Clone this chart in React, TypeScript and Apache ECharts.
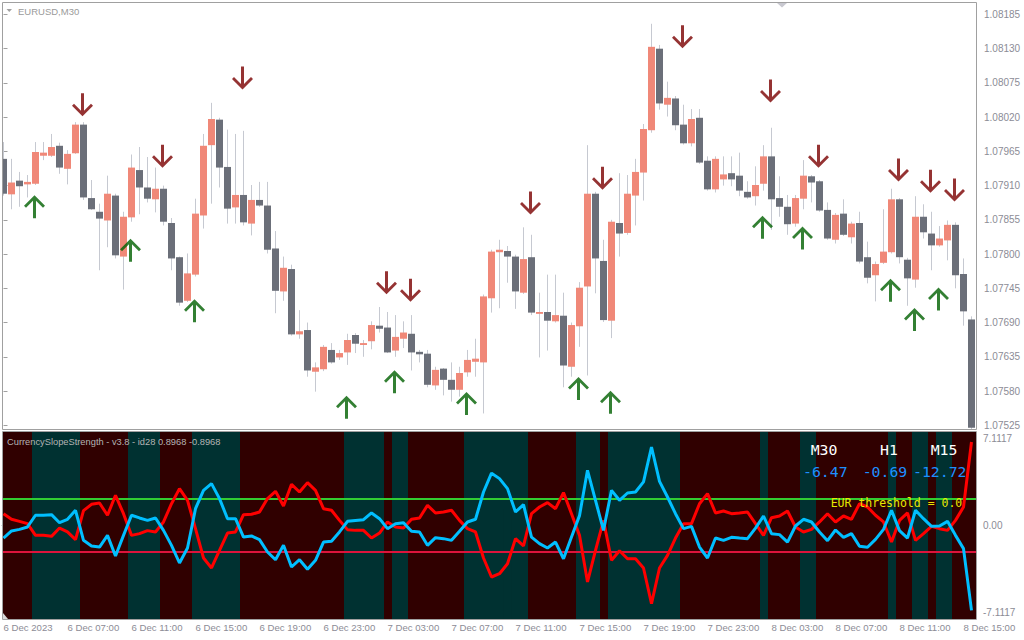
import React, { useEffect, useRef } from 'react';
import * as echarts from 'echarts';

// ---------- data ----------
const timeLabels = ['6 Dec 2023', '6 Dec 07:00', '6 Dec 11:00', '6 Dec 15:00', '6 Dec 19:00', '6 Dec 23:00', '7 Dec 03:00', '7 Dec 07:00', '7 Dec 11:00', '7 Dec 15:00', '7 Dec 19:00', '7 Dec 23:00', '8 Dec 03:00', '8 Dec 07:00', '8 Dec 11:00', '8 Dec 15:00'];
const labelBars = [0, 8, 16, 24, 32, 40, 48, 56, 64, 72, 80, 88, 96, 104, 112, 120];
const priceTicks = [1.07525, 1.0758, 1.07635, 1.0769, 1.07745, 1.078, 1.07855, 1.0791, 1.07965, 1.0802, 1.08075, 1.0813, 1.08185];
const strengthTicks = [-7.1117, 0, 7.1117];

const opens = [1.07953, 1.07896, 1.07918, 1.07912, 1.07913, 1.07958, 1.07958, 1.07974, 1.07937, 1.07962,
  1.08008, 1.0789, 1.07868, 1.07854, 1.07894, 1.07796, 1.07859, 1.07935, 1.07907, 1.07888,
  1.07905, 1.0785, 1.07795, 1.07725, 1.07767, 1.07862, 1.07975, 1.08016, 1.0794, 1.07875,
  1.07895, 1.07849, 1.07887, 1.07878, 1.07809, 1.0774, 1.07776, 1.07671, 1.07678, 1.07611,
  1.07615, 1.07646, 1.07634, 1.07642, 1.0767, 1.07654, 1.0766, 1.07685, 1.07682, 1.07645,
  1.07664, 1.07672, 1.07643, 1.0764, 1.07589, 1.07616, 1.07598, 1.07582, 1.0761, 1.07627,
  1.07626, 1.07729, 1.07803, 1.07805, 1.07796, 1.07738, 1.07795, 1.07704, 1.07707, 1.07692,
  1.07701, 1.07619, 1.07684, 1.07748, 1.07897, 1.07789, 1.07693, 1.0785, 1.07834, 1.07894,
  1.07931, 1.07999, 1.0813, 1.0804, 1.0805, 1.08008, 1.07978, 1.08019, 1.0795, 1.07904,
  1.0792, 1.0793, 1.07926, 1.079, 1.07893, 1.07913, 1.07957, 1.0789, 1.07876, 1.07849,
  1.07889, 1.07925, 1.07917, 1.07871, 1.07823, 1.07865, 1.07827, 1.0785, 1.07795, 1.07766,
  1.07786, 1.07803, 1.07888, 1.07791, 1.07759, 1.0786, 1.07833, 1.07814, 1.07822, 1.07847,
  1.07768, 1.07695];
const closes = [1.07897, 1.07915, 1.07909, 1.07916, 1.07964, 1.07963, 1.07972, 1.07939, 1.07961, 1.08008,
  1.07891, 1.07872, 1.07857, 1.07897, 1.07798, 1.0786, 1.07939, 1.07907, 1.07889, 1.07905,
  1.07852, 1.07793, 1.07722, 1.07769, 1.07865, 1.07974, 1.08017, 1.07939, 1.07873, 1.07895,
  1.07851, 1.07887, 1.07878, 1.07807, 1.07741, 1.07778, 1.07671, 1.07676, 1.07613, 1.07618,
  1.07651, 1.07626, 1.07641, 1.07662, 1.07656, 1.07657, 1.07686, 1.0768, 1.07642, 1.07667,
  1.07674, 1.07642, 1.07639, 1.0759, 1.07614, 1.07598, 1.07582, 1.07609, 1.0763, 1.07632,
  1.07732, 1.07804, 1.07807, 1.07796, 1.0774, 1.07792, 1.07706, 1.07707, 1.07693, 1.07702,
  1.07621, 1.07686, 1.07746, 1.07897, 1.07793, 1.07694, 1.07852, 1.07833, 1.07897, 1.07932,
  1.08001, 1.08133, 1.08042, 1.08051, 1.08007, 1.07978, 1.08017, 1.07947, 1.07904, 1.07953,
  1.07928, 1.0792, 1.07902, 1.07891, 1.07911, 1.07957, 1.07888, 1.07876, 1.07848, 1.0789,
  1.07926, 1.07915, 1.0787, 1.07825, 1.07863, 1.07831, 1.07849, 1.07788, 1.07762, 1.07784,
  1.07804, 1.07888, 1.07795, 1.07761, 1.0786, 1.07835, 1.07814, 1.07825, 1.07847, 1.07766,
  1.07708, 1.07521];
const highs = [1.0798, 1.07953, 1.07932, 1.07927, 1.0798, 1.0798, 1.07993, 1.07979, 1.07967, 1.08012,
  1.08012, 1.07919, 1.07881, 1.07926, 1.07897, 1.07868, 1.0796, 1.07972, 1.07956, 1.07939,
  1.0791, 1.07858, 1.07796, 1.07801, 1.07889, 1.07993, 1.08043, 1.08019, 1.08, 1.07993,
  1.07998, 1.07911, 1.07916, 1.07916, 1.07837, 1.07796, 1.07783, 1.0771, 1.0769, 1.07626,
  1.07654, 1.07657, 1.07646, 1.07672, 1.07673, 1.07662, 1.07692, 1.07715, 1.07707, 1.07702,
  1.07692, 1.07702, 1.07646, 1.07646, 1.07619, 1.07617, 1.07626, 1.07619, 1.07646, 1.07664,
  1.07735, 1.07807, 1.07823, 1.07813, 1.07799, 1.07843, 1.07831, 1.07738, 1.07767, 1.07767,
  1.07738, 1.0769, 1.07755, 1.07975, 1.079, 1.07823, 1.07855, 1.0793, 1.07927, 1.07953,
  1.08009, 1.0817, 1.08136, 1.08077, 1.08054, 1.0804, 1.08033, 1.08033, 1.07957, 1.07957,
  1.07957, 1.07957, 1.07963, 1.07917, 1.07941, 1.07975, 1.08003, 1.07925, 1.07895, 1.07895,
  1.07951, 1.07927, 1.07919, 1.07883, 1.07866, 1.07888, 1.07852, 1.07868, 1.0782, 1.07788,
  1.07872, 1.07905, 1.0789, 1.07794, 1.07893, 1.0788, 1.07868, 1.07845, 1.07854, 1.07851,
  1.07793, 1.077];
const lows = [1.07894, 1.07872, 1.07876, 1.07891, 1.07911, 1.07951, 1.07956, 1.07929, 1.07912, 1.07961,
  1.07887, 1.07871, 1.07774, 1.07811, 1.07793, 1.07743, 1.07852, 1.07864, 1.07883, 1.07867,
  1.07846, 1.07774, 1.07717, 1.07723, 1.07764, 1.07841, 1.07881, 1.07907, 1.07849, 1.07849,
  1.07846, 1.0783, 1.07876, 1.07801, 1.07705, 1.07725, 1.07669, 1.07664, 1.07603, 1.07579,
  1.07612, 1.07624, 1.0763, 1.07622, 1.07641, 1.07635, 1.07647, 1.07674, 1.07641, 1.07635,
  1.07649, 1.07613, 1.07626, 1.07586, 1.07582, 1.07573, 1.07563, 1.07571, 1.07603, 1.07603,
  1.07544, 1.07706, 1.07713, 1.07754, 1.07712, 1.07736, 1.07702, 1.07634, 1.07645, 1.0769,
  1.07586, 1.07603, 1.07651, 1.07605, 1.07737, 1.07691, 1.07665, 1.07796, 1.07831, 1.07846,
  1.07886, 1.07995, 1.08032, 1.08021, 1.07999, 1.07976, 1.07973, 1.07945, 1.07902, 1.07899,
  1.0791, 1.07909, 1.07893, 1.07889, 1.07878, 1.07902, 1.07839, 1.0786, 1.07831, 1.07844,
  1.07872, 1.07883, 1.07868, 1.07823, 1.07817, 1.07829, 1.07817, 1.07785, 1.07753, 1.07724,
  1.07784, 1.07801, 1.07785, 1.07717, 1.07746, 1.07825, 1.07774, 1.07812, 1.0779, 1.07745,
  1.07685, 1.07519];

const sellBars = [10, 20, 30, 48, 51, 66, 75, 85, 96, 102, 112, 116, 119];
const sellPrices = [1.0804, 1.07957, 1.08083, 1.07754, 1.07742, 1.07882, 1.07922, 1.08149, 1.08062, 1.07957, 1.07935, 1.07917, 1.07903];
const buyBars = [4, 16, 24, 43, 49, 58, 72, 76, 95, 100, 111, 114, 117];
const buyPrices = [1.07876, 1.07806, 1.07709, 1.07554, 1.07595, 1.0756, 1.07584, 1.07562, 1.07843, 1.07826, 1.07742, 1.07695, 1.07728];

const eurStrength = [0.97, 0.51, 0.34, 0.15, -0.81, -0.81, -0.89, -0.21, -0.53, -1.16,
  1.22, 1.74, 1.85, 0.84, 2.48, 0.97, -0.81, -0.67, -0.42, -0.53,
  0.29, 1.79, 3.03, 2.07, -0.26, -2.67, -3.49, -2.04, -0.62, -0.53,
  0.89, 0.92, 1.11, 2.21, 2.81, 1.6, 3.38, 2.75, 3.52, 2.89,
  1.38, 1.25, 0.42, -0.34, -0.4, -0.4, -1.03, -0.62, 0.29, -0.12,
  -0.21, 0.51, 0.62, 1.66, 1.03, 1.11, 1.25, 0.42, -0.26, -0.53,
  -2.67, -4.23, -3.96, -3.14, -1.08, -1.68, 0.97, 1.52, 1.88, 1.38,
  2.7, 0.97, -0.81, -4.64, -2.04, 0.42, -2.86, -2.07, -2.73, -2.73,
  -3.49, -6.42, -3.49, -2.45, -1.03, 0.15, 0.15, 1.79, 2.62, 1.03,
  1.19, 0.97, 1.03, 1.11, 0.15, -0.81, 0.64, 0.78, 1.19, -0.12,
  -0.53, -0.32, 0.29, 0.97, 0.29, 0.78, 0.51, 1.79, 1.52, 0.84,
  0.29, -1.36, 0.42, 1.03, -1.22, -0.67, -0.07, -0.26, -0.4, 0.42,
  1.52, 6.86];
const usdStrength = [-1.03, -0.45, -0.32, -0.12, 0.84, 0.84, 0.89, 0.23, 0.51, 1.25,
  -1.22, -1.68, -1.77, -0.81, -2.51, -0.81, 0.84, 0.62, 0.42, 0.62,
  -0.4, -1.63, -3.08, -1.85, 1.38, 2.89, 3.44, 2.21, 0.56, 0.56,
  -0.95, -0.86, -1.16, -2.18, -2.81, -1.63, -3.41, -2.81, -3.6, -2.86,
  -1.36, -1.3, -0.53, 0.34, 0.42, 0.48, 1.03, 0.56, -0.26, 0.15,
  0.23, -0.48, -0.53, -1.63, -1.0, -1.08, -1.22, -0.48, 0.29, 0.51,
  2.75, 4.3, 3.85, 3.03, 1.11, 1.71, -0.95, -1.49, -1.85, -1.36,
  -2.73, -0.95, 0.81, 4.53, 2.07, -0.4, 2.89, 2.07, 2.67, 2.75,
  3.58, 6.45, 3.63, 2.34, 0.97, -0.26, -0.07, -1.77, -2.67, -1.03,
  -1.22, -0.97, -1.03, -1.08, -0.21, 0.78, -0.67, -0.75, -1.36, -0.04,
  0.51, 0.29, -0.53, -1.25, -0.37, -0.97, -0.67, -1.71, -1.79, -1.14,
  -0.32, 1.25, -0.42, -1.03, 1.25, 0.56, -0.07, -0.04, 0.34, -0.81,
  -1.9, -6.97];
// 1 = bullish regime (teal), 0 = bearish regime (maroon)
const regime = [0, 0, 0, 0, 1, 1, 1, 1, 1, 1,
  0, 0, 0, 0, 0, 0, 1, 1, 1, 1,
  0, 0, 0, 0, 1, 1, 1, 1, 1, 1,
  0, 0, 0, 0, 0, 0, 0, 0, 0, 0,
  0, 0, 0, 1, 1, 1, 1, 1, 0, 1,
  1, 0, 0, 0, 0, 0, 0, 0, 1, 1,
  1, 1, 1, 1, 1, 1, 0, 0, 0, 0,
  0, 0, 1, 1, 1, 0, 1, 1, 1, 1,
  1, 1, 1, 1, 1, 0, 0, 0, 0, 0,
  0, 0, 0, 0, 0, 1, 0, 0, 0, 0,
  1, 1, 0, 0, 0, 0, 0, 0, 0, 0,
  0, 1, 0, 0, 1, 1, 0, 1, 1, 0,
  0, 0];
const upperLevel = 2.17;
const lowerLevel = -2.17;
const tfNames = ['M30', 'H1', 'M15'];
const tfValues = ['-6.47', '-0.69', '-12.72'];

// ---------- styling ----------
const XMIN = -0.1875;
const XMAX = 121.5625;
const AXIS_TEXT = '#8c8c96';
const FRAME = '#a0a0a0';
const SANS = '"Liberation Sans", Arial, sans-serif';
const MONO = '"DejaVu Sans Mono", monospace';
const DOWN = 'path://M9,0 L12,0 L12,17.5 L19,10.5 L21,12.5 L10.5,23 L0,12.5 L2,10.5 L9,17.5 Z';
const UP = 'path://M9,23 L12,23 L12,5.5 L19,12.5 L21,10.5 L10.5,0 L0,10.5 L2,12.5 L9,5.5 Z';

function buildOption(): any {
  const candleData = opens.map((o, k) => [k, o, closes[k], lows[k], highs[k]]);
  const bandData = regime.map((r, k) => [k, r]);
  const eurData = eurStrength.map((v, k) => [k, v]);
  const usdData = usdStrength.map((v, k) => [k, v]);

  const tfX = [810.7, 880, 930.7];
  const valX = [803, 862.7, 913];
  const graphics: any[] = [
    { type: 'rect', z: 100, silent: true, shape: { x: 2.5, y: 2.5, width: 974, height: 427 }, style: { fill: 'none', stroke: FRAME, lineWidth: 1 } },
    { type: 'rect', z: 100, silent: true, shape: { x: 2.5, y: 431.5, width: 974, height: 188 }, style: { fill: 'none', stroke: FRAME, lineWidth: 1 } },
    { type: 'polygon', z: 100, shape: { points: [[6.5, 9], [12, 9], [9.25, 12]] }, style: { fill: '#a0a0a0' } },
    { type: 'polygon', z: 100, shape: { points: [[777, 3], [787, 3], [782, 7.5]] }, style: { fill: '#c8c8d0' } },
    { type: 'polygon', z: 100, shape: { points: [[3, 613], [3, 619], [8, 619]] }, style: { fill: '#d8d8d8' } },
    { type: 'text', z: 100, x: 18, y: 11, style: { text: 'EURUSD,M30', fill: '#9a9a9a', font: `9.5px ${SANS}`, verticalAlign: 'middle' } },
    { type: 'text', z: 100, x: 7, y: 441.5, style: { text: 'CurrencySlopeStrength - v3.8 - id28 0.8968 -0.8968', fill: '#b4b4b4', font: `9.3px ${SANS}`, verticalAlign: 'middle' } },
    { type: 'text', z: 100, x: 830.7, y: 503, style: { text: 'EUR threshold = 0.0', fill: '#e8e800', font: `11.5px ${MONO}`, verticalAlign: 'middle' } },
  ];
  tfNames.forEach((t, i) => {
    graphics.push({ type: 'text', z: 100, x: tfX[i], y: 449, style: { text: t, fill: '#ffffff', font: `14.8px ${MONO}`, verticalAlign: 'middle' } });
    graphics.push({ type: 'text', z: 100, x: valX[i], y: 471, style: { text: tfValues[i], fill: '#1e90ff', font: `14.8px ${MONO}`, verticalAlign: 'middle' } });
  });

  return {
    animation: false,
    backgroundColor: '#ffffff',
    grid: [
      { left: 2, top: 2, width: 974, height: 427, show: false },
      { left: 2, top: 432, width: 974, height: 187, show: false },
    ],
    xAxis: [
      { type: 'value', gridIndex: 0, min: XMIN, max: XMAX, show: false },
      {
        type: 'value', gridIndex: 1, min: XMIN, max: XMAX,
        axisLine: { show: true, lineStyle: { color: FRAME } },
        axisTick: { show: true, length: 4, customValues: labelBars, lineStyle: { color: FRAME } },
        axisLabel: {
          customValues: labelBars, align: 'left', margin: 3, color: AXIS_TEXT, fontSize: 9.6, fontFamily: SANS,
          formatter: (v: number) => timeLabels[Math.round(v / 8)] || '',
        },
        splitLine: { show: false },
      },
    ],
    yAxis: [
      {
        type: 'value', gridIndex: 0, position: 'right', min: 1.07519, max: 1.08205,
        axisLine: { show: false },
        axisTick: { show: true, length: 4, customValues: priceTicks, lineStyle: { color: FRAME } },
        axisLabel: { customValues: priceTicks, margin: 8, color: AXIS_TEXT, fontSize: 10, fontFamily: SANS, formatter: (v: number) => v.toFixed(5) },
        splitLine: { show: false },
      },
      {
        type: 'value', gridIndex: 1, position: 'right', min: -7.68, max: 7.68,
        axisLine: { show: false },
        axisTick: { show: true, length: 4, customValues: strengthTicks, lineStyle: { color: FRAME } },
        axisLabel: { customValues: strengthTicks, margin: 7, color: AXIS_TEXT, fontSize: 10, fontFamily: SANS, formatter: (v: number) => (v === 0 ? '0.00' : v.toFixed(4)) },
        splitLine: { show: false },
      },
    ],
    series: [
      {
        type: 'custom', name: 'regime', xAxisIndex: 1, yAxisIndex: 1, z: 1, silent: true,
        data: bandData,
        encode: { x: 0, y: 1 },
        renderItem: (params: any, api: any) => {
          const k = api.value(0);
          const r = api.value(1);
          const cs = params.coordSys;
          const xa = Math.round(api.coord([k - 0.5, 0])[0]);
          const xb = Math.round(api.coord([k + 0.5, 0])[0]);
          const x0 = Math.max(xa, cs.x);
          const x1 = Math.min(xb, cs.x + cs.width);
          return {
            type: 'rect',
            shape: { x: x0, y: cs.y, width: x1 - x0 + (k < regime.length - 1 ? 0.6 : 0), height: cs.height },
            style: { fill: r ? '#003131' : '#300000' },
          };
        },
      },
      {
        type: 'line', name: 'upper', xAxisIndex: 1, yAxisIndex: 1, z: 2, silent: true, showSymbol: false,
        data: [[XMIN, upperLevel], [XMAX, upperLevel]], lineStyle: { color: '#32cd32', width: 2 },
      },
      {
        type: 'line', name: 'lower', xAxisIndex: 1, yAxisIndex: 1, z: 2, silent: true, showSymbol: false,
        data: [[XMIN, lowerLevel], [XMAX, lowerLevel]], lineStyle: { color: '#dc143c', width: 2 },
      },
      {
        type: 'line', name: 'EUR', xAxisIndex: 1, yAxisIndex: 1, z: 3, showSymbol: false,
        data: eurData, lineStyle: { color: '#ff0000', width: 3 },
      },
      {
        type: 'line', name: 'USD', xAxisIndex: 1, yAxisIndex: 1, z: 4, showSymbol: false,
        data: usdData, lineStyle: { color: '#00bfff', width: 3 },
      },
      {
        type: 'custom', name: 'EURUSD', xAxisIndex: 0, yAxisIndex: 0, z: 2,
        data: candleData,
        encode: { x: 0, y: [1, 2, 3, 4] },
        renderItem: (params: any, api: any) => {
          const k = api.value(0);
          const o = api.value(1);
          const c = api.value(2);
          const l = api.value(3);
          const h = api.value(4);
          const cs = params.coordSys;
          const pO = api.coord([k, o]);
          const pC = api.coord([k, c]);
          const pL = api.coord([k, l]);
          const pH = api.coord([k, h]);
          const bw = api.size([1, 0])[0] * 0.875;
          const cx = pO[0];
          const x0 = Math.max(cx - bw / 2, cs.x);
          const x1 = cx + bw / 2;
          const top = Math.min(pO[1], pC[1]);
          const hgt = Math.max(Math.abs(pO[1] - pC[1]), 1);
          const up = c >= o;
          return {
            type: 'group',
            children: [
              { type: 'line', shape: { x1: cx, y1: pH[1], x2: cx, y2: pL[1] }, style: { stroke: '#c6c9d1', lineWidth: 1 } },
              { type: 'rect', shape: { x: x0, y: top, width: x1 - x0, height: hgt }, style: { fill: up ? '#f08878' : '#6b6f79' } },
            ],
          };
        },
      },
      {
        type: 'scatter', name: 'sell', xAxisIndex: 0, yAxisIndex: 0, z: 5,
        data: sellBars.map((k, i) => [k, sellPrices[i]]),
        symbol: DOWN, symbolSize: [21, 23], symbolOffset: [-1, 0], itemStyle: { color: '#7a0000' },
      },
      {
        type: 'scatter', name: 'buy', xAxisIndex: 0, yAxisIndex: 0, z: 5,
        data: buyBars.map((k, i) => [k, buyPrices[i]]),
        symbol: UP, symbolSize: [21, 23], symbolOffset: [-1, 0], itemStyle: { color: '#006000' },
      },
    ],
    graphic: graphics,
  };
}

export default function App() {
  const ref = useRef<HTMLDivElement>(null);
  useEffect(() => {
    if (!ref.current) return;
    const chart = echarts.init(ref.current, null, { renderer: 'svg', width: 1024, height: 640 });
    chart.setOption(buildOption());
    return () => chart.dispose();
  }, []);
  return <div ref={ref} style={{ position: 'fixed', left: 0, top: 0, width: 1024, height: 640, background: '#ffffff' }} />;
}
